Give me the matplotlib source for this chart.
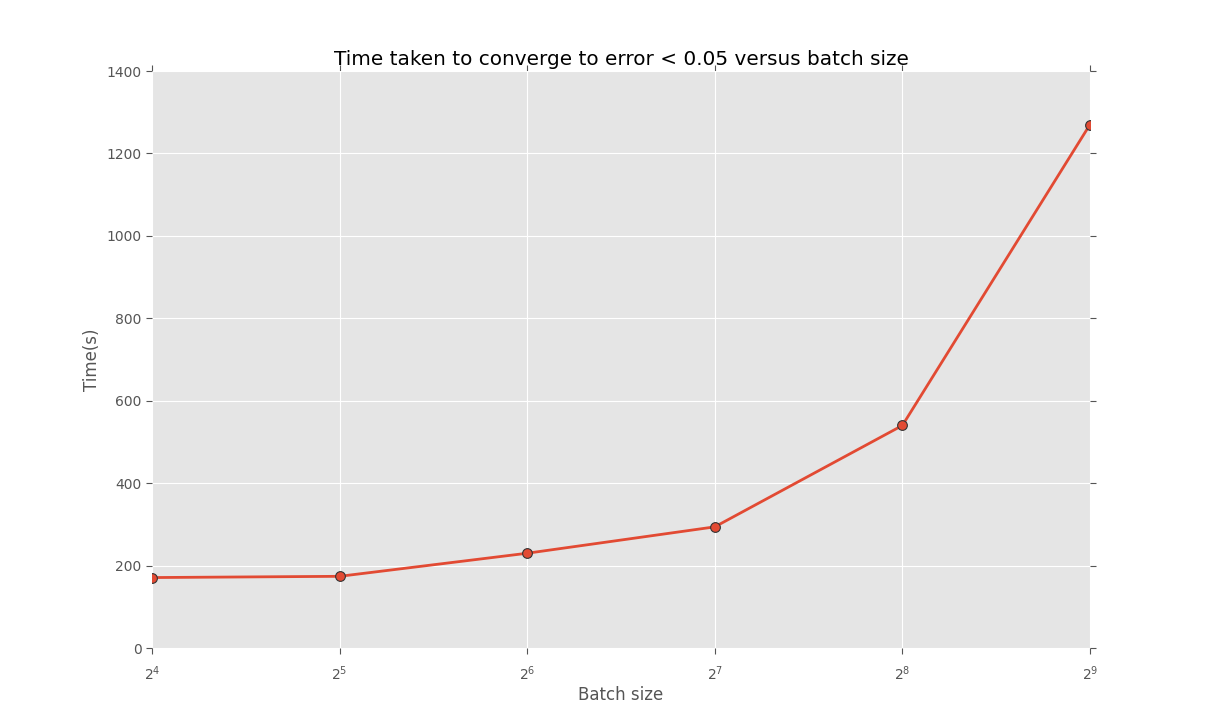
import matplotlib
matplotlib.use("Agg")
import matplotlib.pyplot as plt

batch_sizes = [16, 32, 64, 128, 256, 512]
times = [171, 174, 230, 294, 540, 1270]

plt.style.use("ggplot")
fig = plt.figure(figsize=(12.12, 7.21), dpi=100)
ax = fig.add_subplot(111)
fig.subplots_adjust(left=0.1254, right=0.8993, top=0.9015, bottom=0.1012)
ax.plot(batch_sizes, times, color="#E24A33", linewidth=2, marker="o",
        markersize=7, markeredgecolor="#333333", markeredgewidth=0.8)
ax.set_xscale("log", base=2)
ax.set_xlim(16, 512)
ax.set_ylim(0, 1400)
ax.set_xticks(batch_sizes)
ax.set_xticklabels([r"$2^{%d}$" % p for p in range(4, 10)])
ax.minorticks_off()
ax.tick_params(axis="both", which="major", direction="out", top=True, right=True,
               length=4, color="#555555", labelsize=10, labelcolor="#555555")
ax.tick_params(axis="x", pad=8)
ax.set_xlabel("Batch size", fontsize=12, color="#555555", labelpad=2)
ax.set_ylabel("Time(s)", fontsize=12, color="#555555")
ax.set_title("Time taken to converge to error < 0.05 versus batch size",
             fontsize=14.4, color="black", pad=4)
for s in ax.spines.values():
    s.set_visible(False)
fig.savefig("out.png", dpi=100)
